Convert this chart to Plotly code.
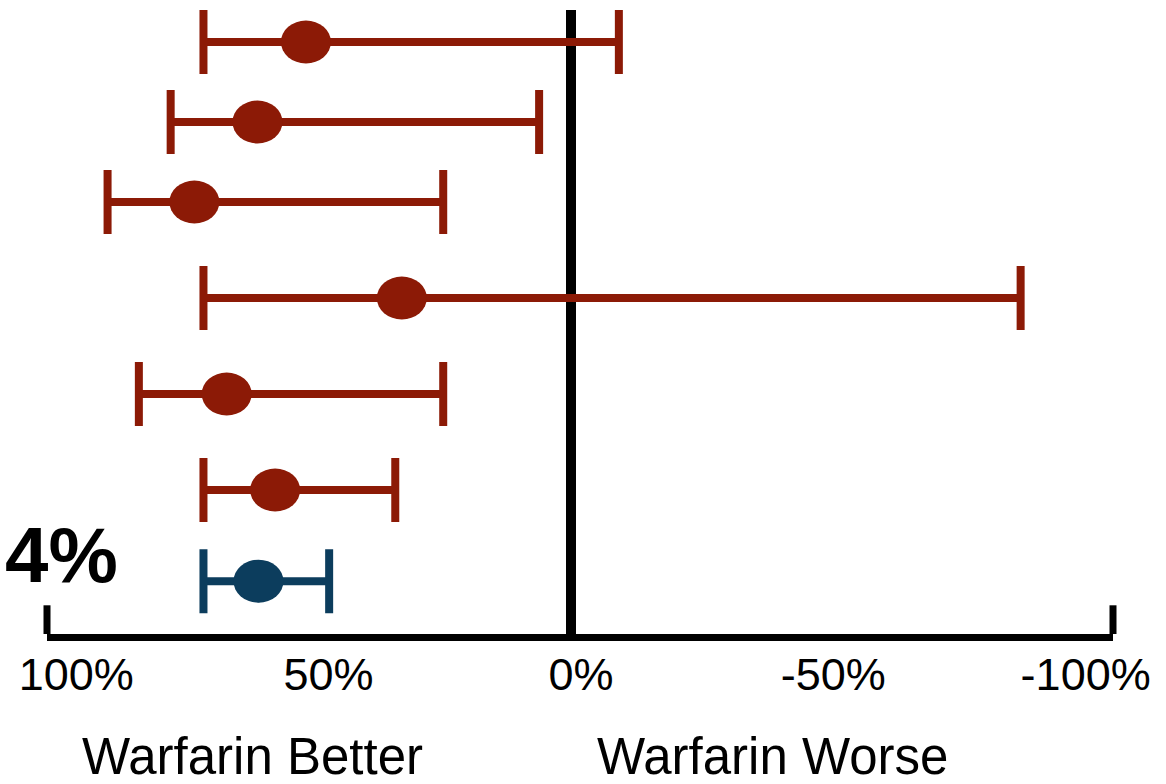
import plotly.graph_objects as go

# ---- data (percent risk reduction vs warfarin) ----
row_pos = [0, 1, 2, 3.2, 4.4, 5.6, 6.74]
estimate = [52.5, 62.1, 74.6, 33.5, 68.2, 58.6, 61.9]
ci_lower = [-9.5, 6.3, 25.3, -89.1, 25.3, 34.8, 47.9]
ci_upper = [72.8, 79.3, 91.8, 72.8, 85.6, 72.8, 72.8]
row_color = ["red", "red", "red", "red", "red", "red", "blue"]

tick_vals = [100, 50, 0, -50, -100]
tick_text = ["100%", "50%", "0%", "-50%", "-100%"]

RED = "#8c1a06"
BLUE = "#0c3d5d"
FONT = "Liberation Sans, Arial, sans-serif"

fig = go.Figure()

for key, col in (("red", RED), ("blue", BLUE)):
    idx = [i for i, c in enumerate(row_color) if c == key]
    x = [estimate[i] for i in idx]
    y = [row_pos[i] for i in idx]
    plus = [ci_upper[i] - estimate[i] for i in idx]
    minus = [estimate[i] - ci_lower[i] for i in idx]
    fig.add_trace(go.Scatter(
        x=x, y=y, mode="markers",
        marker=dict(symbol="circle", size=42, color=col, line=dict(width=0)),
        error_x=dict(type="data", symmetric=False, array=plus, arrayminus=minus,
                     color=col, thickness=8, width=32),
        showlegend=False, hoverinfo="skip",
    ))
    # elliptical point markers anchored at the data values
    for xi, yi in zip(x, y):
        fig.add_shape(type="circle", xref="x", yref="y",
                      xsizemode="pixel", ysizemode="pixel",
                      xanchor=xi, yanchor=yi,
                      x0=-25, x1=25, y0=-21.5, y1=21.5,
                      fillcolor=col, line=dict(width=0), layer="above")

# axis end caps
for xd in (0, 1):
    fig.add_shape(type="line", xref="x domain", yref="y domain",
                  x0=xd, x1=xd, y0=0, y1=0.046,
                  line=dict(color="black", width=7))

fig.add_annotation(text="<b>4%</b>", xref="paper", yref="paper",
                   x=-0.041, y=0.1266, xanchor="left", yanchor="middle",
                   showarrow=False, font=dict(family=FONT, size=78, color="black"))
fig.add_annotation(text="Warfarin Better", xref="paper", yref="paper",
                   x=0.1928, y=-0.196, xanchor="center", yanchor="middle",
                   showarrow=False, font=dict(family=FONT, size=51, color="black"))
fig.add_annotation(text="Warfarin Worse", xref="paper", yref="paper",
                   x=0.6806, y=-0.196, xanchor="center", yanchor="middle",
                   showarrow=False, font=dict(family=FONT, size=51, color="black"))

fig.update_layout(
    width=1166, height=784,
    margin=dict(l=47, r=53, t=10, b=150),
    paper_bgcolor="white", plot_bgcolor="white",
    xaxis=dict(range=[103.8, -107.4], tickvals=tick_vals, ticktext=tick_text,
               ticks="", showgrid=False,
               zeroline=True, zerolinecolor="black", zerolinewidth=10,
               showline=True, linecolor="black", linewidth=7,
               tickfont=dict(family=FONT, size=45, color="black"),
               ticklabelshift=-10, ticklabelstandoff=-5),
    yaxis=dict(range=[7.4, -0.4], visible=False, showgrid=False, zeroline=False),
)

fig.write_html("out.html")
